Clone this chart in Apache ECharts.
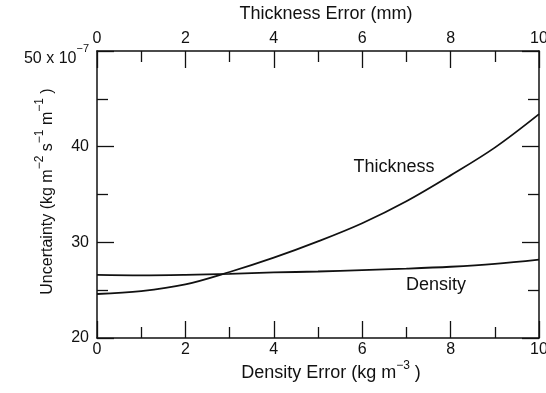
<!DOCTYPE html>
<html>
<head>
<meta charset="utf-8">
<script src="https://cdn.jsdelivr.net/npm/echarts@6/dist/echarts.min.js"></script>
<style>
  html, body { margin: 0; padding: 0; background: #fff; }
  #chart { width: 546px; height: 393px; }
</style>
</head>
<body>
<div id="chart"></div>
<script>
// Error contribution of the two measured quantities to the total uncertainty
const errorSteps = [0, 1, 2, 3, 4, 5, 6, 7, 8, 9, 10];
const thicknessUncertainty = [24.6, 24.9, 25.6, 26.9, 28.4, 30.1, 32.0, 34.3, 37.0, 39.9, 43.4];
const densityUncertainty = [26.6, 26.55, 26.6, 26.7, 26.85, 26.95, 27.1, 27.25, 27.45, 27.75, 28.2];
const curveNames = ['Thickness', 'Density'];

const FONT = '"Liberation Sans", Arial, Helvetica, sans-serif';
const INK = '#111';
const NAME_SIZE = 18;

const pairs = (ys) => errorSteps.map((x, i) => [x, ys[i]]);

// superscript styling shared by the axis titles
const supStyle = (pad) => ({ fontSize: 12, lineHeight: 12, padding: [0, 0, pad, 0], color: INK, fontFamily: FONT });

const tickBase = {
  axisLine: { show: true, onZero: false, lineStyle: { color: INK, width: 1.5 } },
  axisTick: { show: true, inside: true, length: 17, lineStyle: { color: INK, width: 1.3 } },
  minorTick: { show: true, splitNumber: 2, length: 11, lineStyle: { color: INK, width: 1.3 } },
  splitLine: { show: false },
  minorSplitLine: { show: false },
  nameMoveOverlap: false
};

const xAxisCommon = Object.assign({}, tickBase, {
  type: 'value', min: 0, max: 10, interval: 2
});
const yAxisCommon = Object.assign({}, tickBase, {
  type: 'value', min: 20, max: 50, interval: 10
});

const chart = echarts.init(document.getElementById('chart'), null, { renderer: 'canvas' });

chart.setOption({
  backgroundColor: '#fff',
  animation: false,
  grid: { left: 97, right: 7, top: 51, bottom: 55, containLabel: false, outerBoundsMode: 'none' },
  xAxis: [
    Object.assign({}, xAxisCommon, {
      position: 'bottom',
      name: 'Density Error (kg m{sup|−3} )',
      nameLocation: 'middle',
      nameGap: 26,
      nameTextStyle: {
        padding: [0, 0, 0, 26],
        rich: { sup: supStyle(14) },
        fontSize: NAME_SIZE, color: INK, fontFamily: FONT
      },
      axisLabel: { margin: 4, fontSize: 16, color: INK, fontFamily: FONT }
    }),
    Object.assign({}, xAxisCommon, {
      position: 'top',
      name: 'Thickness Error (mm)',
      nameLocation: 'middle',
      nameGap: 28,
      nameTextStyle: { padding: [0, 0, 0, 16], fontSize: NAME_SIZE, color: INK, fontFamily: FONT },
      axisLabel: { margin: 4, fontSize: 16, color: INK, fontFamily: FONT }
    })
  ],
  yAxis: [
    Object.assign({}, yAxisCommon, {
      position: 'left',
      name: 'Uncertainty (kg m{sup|−2} s{sup|−1} m{sup|−1} )',
      nameLocation: 'middle',
      nameRotate: 90,
      nameGap: 41,
      nameTextStyle: {
        padding: [0, 0, 0, 6],
        rich: { sup: supStyle(16) },
        fontSize: 16, color: INK, fontFamily: FONT
      },
      axisLabel: {
        margin: 8, color: INK, fontFamily: FONT, fontSize: 16,
        formatter: (v) => v === 50 ? '{top|50 x 10}{exp|−7}' : '{n|' + v + '}',
        rich: {
          n: { fontSize: 16, color: INK, fontFamily: FONT },
          top: { fontSize: 16, lineHeight: 16, padding: [16, 0, 0, 0], color: INK, fontFamily: FONT },
          exp: { fontSize: 11, lineHeight: 11, padding: [0, 0, 4, 0], color: INK, fontFamily: FONT }
        }
      }
    }),
    Object.assign({}, yAxisCommon, {
      position: 'right',
      axisLabel: { show: false }
    })
  ],
  series: [
    {
      name: curveNames[0],
      type: 'line',
      xAxisIndex: 0, yAxisIndex: 0,
      data: pairs(thicknessUncertainty),
      smooth: 0.35,
      showSymbol: false,
      lineStyle: { color: INK, width: 1.8 },
      markPoint: {
        symbol: 'circle', symbolSize: 0,
        label: { show: true, position: 'inside', formatter: curveNames[0], fontSize: NAME_SIZE, color: INK, fontFamily: FONT },
        data: [{ coord: [6.72, 37.9] }]
      }
    },
    {
      name: curveNames[1],
      type: 'line',
      xAxisIndex: 0, yAxisIndex: 0,
      data: pairs(densityUncertainty),
      smooth: 0.35,
      showSymbol: false,
      lineStyle: { color: INK, width: 1.8 },
      markPoint: {
        symbol: 'circle', symbolSize: 0,
        label: { show: true, position: 'inside', formatter: curveNames[1], fontSize: NAME_SIZE, color: INK, fontFamily: FONT },
        data: [{ coord: [7.67, 25.55] }]
      }
    }
  ]
});
</script>
</body>
</html>
